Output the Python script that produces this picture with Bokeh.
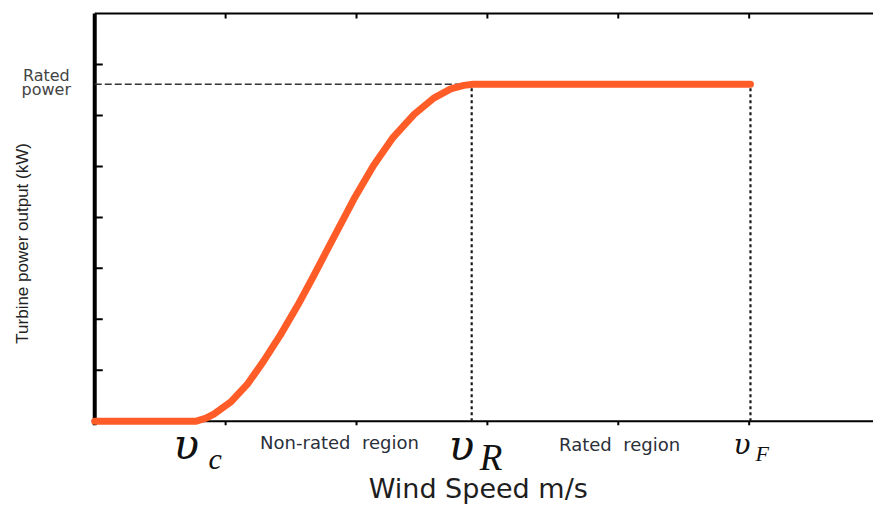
import math
from bokeh.plotting import figure
from bokeh.models import Label, Range1d, ColumnDataSource
from bokeh.embed import file_html
from bokeh.resources import INLINE

# ---- data ----
wind_speed = [0, 0.77, 0.85, 0.91, 1.04, 1.17, 1.29, 1.42, 1.55, 1.67, 1.82, 1.98,
              2.13, 2.28, 2.44, 2.59, 2.72, 2.82, 2.89, 5.01]
power = [0, 0, 0.06, 0.14, 0.38, 0.74, 1.18, 1.70, 2.27, 2.84, 3.58, 4.36,
         5.02, 5.57, 6.02, 6.34, 6.52, 6.59, 6.61, 6.61]
rated_power = 6.61
cut_in = 0.77
rated_speed = 2.88
cut_out = 5.01
x_max = 5.95
y_max = 8
x_ticks = [1, 2, 3, 4, 5]
y_ticks = [1, 2, 3, 4, 5, 6, 7]
region_names = ["Non-rated \u00a0region", "Rated \u00a0region"]
region_centers = [1.87, 4.01]

W, H = 873, 506
x0, x1 = -0.72, x_max
y0, y1 = -1.672, 8.255
px_x = W / (x1 - x0)   # pixels per x unit
px_y = H / (y1 - y0)   # pixels per y unit

p = figure(width=W, height=H, output_backend="svg", toolbar_location=None,
           x_range=Range1d(x0, x1), y_range=Range1d(y0, y1),
           x_axis_location=None, y_axis_location=None,
           min_border_left=0, min_border_right=0, min_border_top=0, min_border_bottom=0)
p.outline_line_color = None
p.xgrid.visible = False
p.ygrid.visible = False
p.background_fill_color = "white"
p.border_fill_color = "white"

# ---- axes drawn as segments through the plot scales ----
p.segment(x0=[0], y0=[-4 / px_y], x1=[0], y1=[y_max], line_color="black", line_width=4)
p.segment(x0=[0] * len(y_ticks), y0=y_ticks, x1=[8 / px_x] * len(y_ticks), y1=y_ticks,
          line_color="black", line_width=2)
p.segment(x0=[-3 / px_x], y0=[0], x1=[x_max], y1=[0], line_color="black", line_width=2)
p.segment(x0=x_ticks, y0=[0] * len(x_ticks), x1=x_ticks, y1=[-4 / px_y] * len(x_ticks),
          line_color="black", line_width=2)
p.segment(x0=[0], y0=[y_max], x1=[x_max], y1=[y_max], line_color="black", line_width=2)
p.segment(x0=x_ticks, y0=[y_max] * len(x_ticks), x1=x_ticks,
          y1=[y_max - 5 / px_y] * len(x_ticks), line_color="black", line_width=2)

# reference lines
p.line([0, rated_speed], [rated_power, rated_power], line_color="#333333",
       line_width=1.5, line_dash="7 3")
p.line([rated_speed, rated_speed], [0, rated_power], line_color="#1a1a1a",
       line_width=2.2, line_dash="3 3")
p.line([cut_out, cut_out], [0, rated_power], line_color="#1a1a1a",
       line_width=2.2, line_dash="3 3")

# power curve
src = ColumnDataSource(dict(x=wind_speed, y=power))
p.line("x", "y", source=src, line_color="#ff5c28", line_width=7,
       line_cap="round", line_join="round")


def lab(text, x, y, dx, dy, size, font="DejaVu Sans", style="normal", align="left",
        baseline="alphabetic", color="#222222", angle=0.0):
    # dy is the wanted baseline offset; Bokeh places the alphabetic baseline ~0.4em lower
    if baseline == "alphabetic":
        dy = dy + 0.4 * size
    p.add_layout(Label(x=x, y=y, x_offset=dx, y_offset=dy, text=text,
                       text_font=font, text_font_size=f"{size}px", text_font_style=style,
                       text_align=align, text_baseline=baseline, text_color=color,
                       angle=angle))


# y labels
lab("Rated", -0.37, rated_power, 0, 2, 16, align="center", color="#444444")
lab("power", -0.37, rated_power, 0, -12, 16, align="center", color="#444444")
lab("Turbine power output (kW)", -0.55, 3.49, 0, 0, 17, font="Liberation Sans",
    align="center", baseline="middle", color="#222222", angle=math.pi / 2)

# speed symbols
greek = "DejaVu Serif"
serif = "Liberation Serif"
lab("υ", cut_in, 0, -22, -40, 42, font=greek, style="italic", color="#111111")
lab("c", cut_in, 0, 13, -49, 30, font=serif, style="italic", color="#111111")
lab("υ", rated_speed, 0, -23, -41, 42, font=greek, style="italic", color="#111111")
lab("R", rated_speed, 0, 8, -51, 37, font=serif, style="italic", color="#111111")
lab("υ", cut_out, 0, -17, -34, 28, font=greek, style="italic", color="#111111")
lab("F", cut_out, 0, 5, -41, 22, font=serif, style="italic", color="#111111")

# region labels
lab(region_names[0], region_centers[0], 0, 0, -28, 18, align="center", color="#2a2f3a")
lab(region_names[1], region_centers[1], 0, 0, -30, 18, align="center", color="#2a2f3a")

# x title
lab("Wind Speed m/s", 2.93, 0, 0, -78, 27, align="center", color="#1e1e1e")

open("out.html", "w").write(file_html(p, INLINE))
